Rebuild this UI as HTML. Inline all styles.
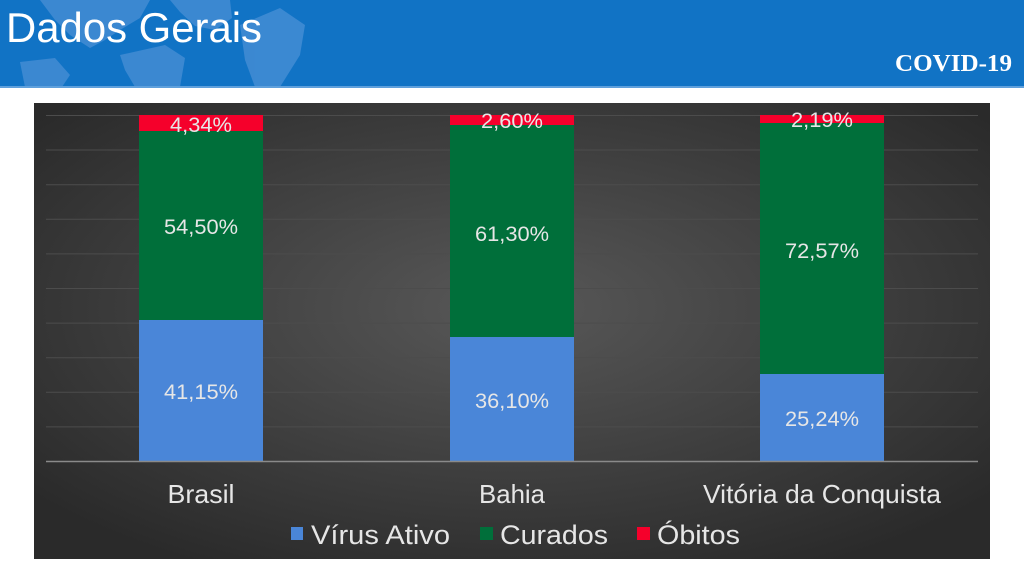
<!DOCTYPE html>
<html><head><meta charset="utf-8"><style>
html,body{margin:0;padding:0;width:1024px;height:577px;overflow:hidden;background:#fff;font-family:"Liberation Sans",sans-serif}
</style></head><body>
<svg width="1024" height="577" xmlns="http://www.w3.org/2000/svg" style="position:absolute;left:0;top:0">
<defs>
<radialGradient id="bg" cx="0.5" cy="0.45" r="0.65">
<stop offset="0" stop-color="#585858"/><stop offset="1" stop-color="#2a2a2a"/>
</radialGradient>
</defs>
<rect x="0" y="0" width="1024" height="87" fill="#1173c5"/>
<g fill="#4a90d6" opacity="0.75">
<path d="M40 0 L150 0 L140 18 L120 30 L105 40 L90 48 L70 35 L55 20 Z"/>
<path d="M120 55 L165 45 L185 58 L180 87 L135 87 L125 70 Z"/>
<path d="M170 0 L230 0 L232 18 L215 30 L195 26 L180 12 Z"/>
<path d="M240 25 L280 8 L305 25 L300 55 L280 87 L255 87 L245 60 Z"/>
<path d="M20 62 L55 58 L70 75 L62 87 L25 87 Z"/>
</g>
<rect x="0" y="86" width="1024" height="2" fill="#5fa0dc"/>
<text x="6" y="42" font-size="42" fill="#fff" textLength="256" lengthAdjust="spacingAndGlyphs">Dados Gerais</text>
<text x="895" y="71" font-size="24" font-weight="bold" fill="#fff" font-family="Liberation Serif,serif" textLength="117" lengthAdjust="spacingAndGlyphs">COVID-19</text>
<rect x="34" y="103" width="956" height="456" fill="url(#bg)"/>
<g stroke="#4c4c4c" stroke-width="1">
<line x1="46" x2="978" y1="115.5" y2="115.5"/>
<line x1="46" x2="978" y1="150" y2="150"/>
<line x1="46" x2="978" y1="184.7" y2="184.7"/>
<line x1="46" x2="978" y1="219.3" y2="219.3"/>
<line x1="46" x2="978" y1="253.9" y2="253.9"/>
<line x1="46" x2="978" y1="288.5" y2="288.5"/>
<line x1="46" x2="978" y1="323.1" y2="323.1"/>
<line x1="46" x2="978" y1="357.7" y2="357.7"/>
<line x1="46" x2="978" y1="392.3" y2="392.3"/>
<line x1="46" x2="978" y1="426.9" y2="426.9"/>
</g>
<rect x="139" y="115" width="124" height="16" fill="#f5002b"/>
<rect x="139" y="131" width="124" height="189" fill="#006f3a"/>
<rect x="139" y="320" width="124" height="141" fill="#4a86d8"/>
<rect x="450" y="115" width="124" height="10" fill="#f5002b"/>
<rect x="450" y="125" width="124" height="212" fill="#006f3a"/>
<rect x="450" y="337" width="124" height="124" fill="#4a86d8"/>
<rect x="760" y="115" width="124" height="8" fill="#f5002b"/>
<rect x="760" y="123" width="124" height="251" fill="#006f3a"/>
<rect x="760" y="374" width="124" height="87" fill="#4a86d8"/>
<line x1="46" x2="978" y1="461.5" y2="461.5" stroke="#8a8a8a" stroke-width="1.5"/>
<g fill="#e6e6e6" font-size="21" text-anchor="middle">
<text x="201" y="132" textLength="62" lengthAdjust="spacingAndGlyphs">4,34%</text>
<text x="201" y="234" textLength="74" lengthAdjust="spacingAndGlyphs">54,50%</text>
<text x="201" y="399" textLength="74" lengthAdjust="spacingAndGlyphs">41,15%</text>
<text x="512" y="128" textLength="62" lengthAdjust="spacingAndGlyphs">2,60%</text>
<text x="512" y="241" textLength="74" lengthAdjust="spacingAndGlyphs">61,30%</text>
<text x="512" y="408" textLength="74" lengthAdjust="spacingAndGlyphs">36,10%</text>
<text x="822" y="127" textLength="62" lengthAdjust="spacingAndGlyphs">2,19%</text>
<text x="822" y="258" textLength="74" lengthAdjust="spacingAndGlyphs">72,57%</text>
<text x="822" y="426" textLength="74" lengthAdjust="spacingAndGlyphs">25,24%</text>
</g>
<g fill="#e6e6e6" font-size="26" text-anchor="middle">
<text x="201" y="503" textLength="67" lengthAdjust="spacingAndGlyphs">Brasil</text>
<text x="512" y="503" textLength="66" lengthAdjust="spacingAndGlyphs">Bahia</text>
<text x="822" y="503" textLength="238" lengthAdjust="spacingAndGlyphs">Vitória da Conquista</text>
</g>
<rect x="291" y="527" width="12" height="13" fill="#4a86d8"/>
<rect x="480" y="527" width="13" height="13" fill="#006f3a"/>
<rect x="637" y="527" width="13" height="13" fill="#f5002b"/>
<g fill="#e6e6e6" font-size="27">
<text x="311" y="544" textLength="139" lengthAdjust="spacingAndGlyphs">Vírus Ativo</text>
<text x="500" y="544" textLength="108" lengthAdjust="spacingAndGlyphs">Curados</text>
<text x="657" y="544" textLength="83" lengthAdjust="spacingAndGlyphs">Óbitos</text>
</g>
</svg>
</body></html>
